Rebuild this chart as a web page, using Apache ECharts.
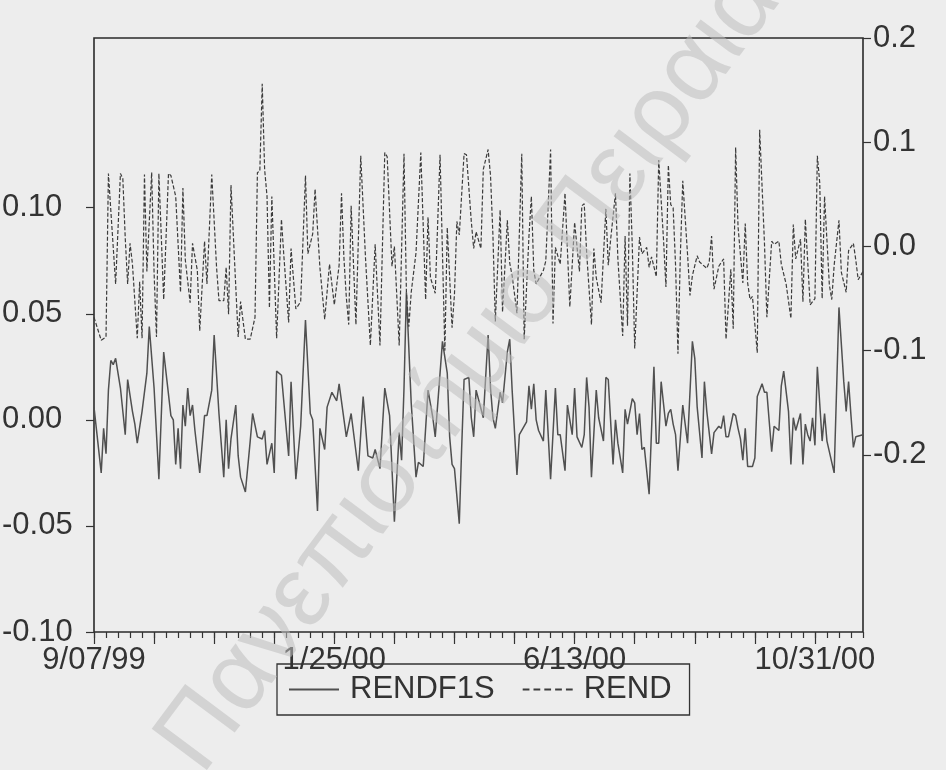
<!DOCTYPE html>
<html>
<head>
<meta charset="utf-8">
<script src="https://cdn.jsdelivr.net/npm/echarts@6/dist/echarts.min.js"></script>
<style>
html,body{margin:0;padding:0;background:#ededed;}
#c{width:946px;height:770px;}
</style>
</head>
<body>
<div id="c"></div>
<script>
// business-day index since 9/07/99
const dateLabels = ['9/07/99', '1/25/00', '6/13/00', '10/31/00'];
const dateLabelDays = [0, 100, 200, 300];

const leftTicks = [-0.10, -0.05, 0.00, 0.05, 0.10];
const rightTicks = [-0.2, -0.1, 0.0, 0.1, 0.2];

// RENDF1S (left axis)
const rendf1sDays = [0,3,4,5,6,7,8,9,11,13,14,16,17,18,20,22,23,25,27,29,32,33,34,35,36,37,38,39,40,41,42,44,46,47,49,50,52,54,55,56,57,59,60,61,63,65,66,68,70,71,72,74,75,76,78,81,82,84,86,88,90,91,93,94,96,97,99,101,102,105,107,110,112,114,116,117,119,121,123,125,127,128,129,130,132,134,135,137,139,141,142,145,147,148,149,150,152,153,154,156,157,158,159,162,164,165,166,167,169,170,172,173,174,176,177,178,180,181,182,183,184,185,187,188,190,192,193,194,196,197,199,200,201,203,204,205,206,207,209,210,212,213,214,216,217,218,220,221,222,224,225,226,227,228,229,231,233,234,235,236,238,239,240,241,242,243,245,247,249,250,251,253,254,255,257,258,260,261,262,263,264,266,267,268,269,270,271,272,274,275,276,278,279,280,281,282,283,285,286,287,289,290,291,292,294,295,296,297,298,299,300,301,303,304,305,308,310,312,313,314,315,316,317,320];
const rendf1sVals = [0.006,-0.025,-0.004,-0.016,0.014,0.028,0.026,0.029,0.015,-0.007,0.019,0.004,-0.002,-0.011,0.004,0.022,0.044,0.015,-0.028,0.032,0.002,0.000,-0.021,-0.004,-0.023,0.007,-0.003,0.015,0.002,0.007,-0.005,-0.025,0.002,0.002,0.014,0.040,0.003,-0.027,0.000,-0.023,-0.009,0.007,-0.017,-0.027,-0.034,-0.010,0.003,-0.008,-0.009,-0.005,-0.021,-0.011,-0.025,0.023,0.021,-0.017,0.018,-0.028,-0.003,0.047,0.003,0.000,-0.043,-0.004,-0.014,0.006,0.013,0.009,0.017,-0.008,0.003,-0.024,0.011,-0.017,-0.018,-0.014,-0.023,0.015,0.002,-0.048,-0.006,-0.019,0.015,0.060,0.008,-0.027,-0.020,-0.022,0.014,0.001,-0.008,0.037,0.022,-0.008,-0.021,-0.023,-0.049,-0.013,0.019,0.020,0.001,-0.008,0.014,0.001,0.040,0.015,0.001,-0.004,0.013,0.008,0.032,0.038,0.014,-0.026,-0.007,-0.005,-0.001,0.016,0.005,0.017,0.000,-0.005,-0.010,0.014,-0.028,0.015,-0.007,-0.007,-0.024,0.007,-0.007,0.015,-0.008,-0.013,-0.007,0.020,0.006,-0.027,0.014,0.001,-0.010,0.020,0.019,-0.021,0.000,-0.011,-0.025,0.005,-0.002,0.010,0.008,-0.007,0.003,-0.014,-0.013,-0.035,0.025,-0.011,-0.011,0.018,-0.003,0.003,0.005,-0.002,-0.007,-0.024,0.007,-0.011,0.037,0.029,0.006,-0.018,0.018,0.004,-0.016,-0.006,-0.003,-0.004,0.002,-0.008,-0.008,0.003,0.002,-0.004,-0.009,-0.019,-0.004,-0.022,-0.022,-0.018,0.011,0.017,0.013,0.013,-0.001,-0.015,-0.003,-0.005,0.016,0.023,0.004,-0.021,0.001,-0.005,0.003,-0.021,-0.002,-0.007,-0.010,0.001,-0.012,0.025,-0.010,0.003,-0.010,-0.025,0.053,0.018,0.004,0.018,0.002,-0.013,-0.008,-0.007];

// REND (right axis)
const rendDays = [0,3,5,6,9,11,12,13,14,15,16,18,19,20,21,22,24,25,26,27,29,31,32,34,36,37,38,40,41,43,44,46,47,49,51,52,54,55,56,57,59,60,61,63,65,67,68,69,70,71,72,73,74,76,78,79,81,82,84,86,88,89,91,92,94,96,98,100,102,103,104,105,106,107,109,111,113,115,117,119,121,122,124,125,127,129,130,131,132,134,136,138,139,140,142,144,146,147,149,150,151,152,154,155,157,158,159,161,162,164,165,166,167,169,170,172,173,174,176,178,179,181,182,183,184,187,188,190,191,192,194,196,198,200,202,203,204,205,207,208,209,211,213,214,215,217,218,220,221,222,223,224,225,227,228,230,231,232,234,235,237,238,239,240,241,242,243,244,245,247,248,249,251,252,255,256,257,258,260,262,263,265,266,267,268,270,271,272,273,274,276,277,279,280,282,283,285,286,288,290,291,292,294,295,296,298,300,301,302,303,304,306,307,308,310,311,313,314,316,317,318,320];
const rendVals = [-0.068,-0.090,-0.087,0.070,-0.036,0.070,0.065,0.008,-0.036,0.003,-0.017,-0.088,-0.034,-0.088,0.069,-0.024,0.071,-0.025,-0.087,0.070,-0.051,0.070,0.068,0.048,-0.044,0.056,-0.013,-0.054,0.003,-0.023,-0.081,0.005,-0.036,0.069,-0.020,-0.052,-0.052,-0.020,-0.065,0.059,-0.039,-0.087,-0.053,-0.089,-0.089,-0.068,0.071,0.072,0.156,0.074,0.048,-0.059,0.048,-0.088,0.026,-0.009,-0.073,-0.002,-0.060,-0.053,0.068,-0.007,0.012,0.055,-0.020,-0.070,-0.017,-0.056,-0.018,0.051,-0.011,-0.049,-0.075,0.039,-0.075,0.087,-0.012,-0.095,0.002,-0.095,0.090,0.086,-0.019,0.000,-0.095,0.089,-0.044,-0.077,-0.044,-0.006,0.090,-0.051,0.028,-0.030,-0.045,0.088,-0.100,0.018,-0.078,-0.046,0.024,0.011,0.089,0.088,0.024,-0.002,0.014,-0.002,0.074,0.093,0.068,0.011,-0.072,0.035,-0.063,0.025,-0.016,-0.028,-0.064,0.089,-0.089,0.010,0.048,-0.023,-0.036,-0.023,-0.014,0.093,-0.074,-0.001,-0.017,0.051,-0.058,0.023,-0.024,0.039,0.041,-0.006,-0.075,-0.002,-0.030,-0.054,0.036,-0.018,0.007,0.051,-0.012,-0.086,0.010,-0.076,0.070,0.000,-0.098,0.009,-0.007,-0.001,-0.020,-0.010,-0.029,0.083,0.006,-0.039,0.078,0.040,0.037,-0.018,-0.103,-0.008,0.063,-0.008,-0.047,-0.028,-0.009,-0.015,-0.021,-0.015,0.010,-0.041,-0.019,-0.012,-0.089,-0.022,-0.079,0.095,0.019,-0.035,0.022,-0.035,-0.051,-0.048,-0.102,0.112,0.003,-0.068,0.005,0.002,0.005,-0.017,-0.036,-0.069,0.021,-0.012,0.007,-0.053,0.026,-0.056,-0.050,0.087,0.061,-0.050,0.048,-0.037,-0.051,-0.018,0.025,-0.025,-0.044,-0.004,0.003,-0.013,-0.032,-0.024];

const FONT = "'Liberation Sans', Arial, sans-serif";
const INK = '#333333';

const weekTicks = [];
for (let d = 0; d <= 320; d += 5) weekTicks.push(d);
const longTicks = [];
for (let d = 0; d <= 320; d += 25) longTicks.push(d);

const dashIcon = 'path://M0,0h5v2h-5z M8,0h5v2h-5z M16,0h5v2h-5z M24,0h5v2h-5z M32,0h5v2h-5z';

const chart = echarts.init(document.getElementById('c'), null, {renderer: 'canvas'});
chart.setOption({
  animation: false,
  backgroundColor: '#ededed',
  grid: {
    left: 94, right: 83, top: 38, bottom: 138,
    show: true, borderColor: '#2a2a2a', borderWidth: 1.6,
    backgroundColor: 'transparent', containLabel: false, outerBoundsMode: 'none'
  },
  legend: {
    data: [{name: 'RENDF1S', icon: 'rect'}, {name: 'REND', icon: dashIcon}],
    left: 277, top: 664,
    itemWidth: 50, itemHeight: 2, itemGap: 28,
    symbolKeepAspect: false,
    borderColor: '#333', borderWidth: 1.3,
    padding: [10, 18, 10, 12],
    textStyle: {fontSize: 31, color: INK, fontFamily: FONT, padding: [0, 0, 0, 6]}
  },
  xAxis: [{
    type: 'value', min: 0, max: 320, position: 'bottom',
    axisLine: {show: false, onZero: false}, splitLine: {show: false},
    axisTick: {show: true, customValues: weekTicks, length: 6, lineStyle: {color: INK, width: 1.2}},
    axisLabel: {
      customValues: dateLabelDays, margin: 13,
      formatter: v => dateLabels[dateLabelDays.indexOf(Math.round(v))] || '',
      fontSize: 31, color: INK, fontFamily: FONT
    }
  }, {
    type: 'value', min: 0, max: 320, position: 'bottom',
    axisLine: {show: false, onZero: false}, splitLine: {show: false},
    axisTick: {show: true, customValues: longTicks, length: 12, lineStyle: {color: INK, width: 1.2}},
    axisLabel: {show: false}
  }],
  yAxis: [{
    type: 'value', min: -0.10, max: 0.18, position: 'left',
    axisLine: {show: false, onZero: false}, splitLine: {show: false},
    axisTick: {show: true, customValues: leftTicks, length: 8, lineStyle: {color: INK, width: 1.2}},
    axisLabel: {customValues: leftTicks, formatter: v => v.toFixed(2), margin: 92, align: 'left',
      fontSize: 31, color: INK, fontFamily: FONT}
  }, {
    type: 'value', min: -0.37, max: 0.2, position: 'right',
    axisLine: {show: false, onZero: false}, splitLine: {show: false},
    axisTick: {show: true, customValues: rightTicks, length: 8, lineStyle: {color: INK, width: 1.2}},
    axisLabel: {customValues: rightTicks, formatter: v => v.toFixed(1), margin: 10,
      fontSize: 31, color: INK, fontFamily: FONT}
  }],
  series: [{
    name: 'RENDF1S', type: 'line', xAxisIndex: 0, yAxisIndex: 0,
    symbol: 'none', silent: true,
    lineStyle: {color: '#505050', width: 1.5},
    itemStyle: {color: '#505050'},
    data: rendf1sDays.map((d, i) => [d, rendf1sVals[i]])
  }, {
    name: 'REND', type: 'line', xAxisIndex: 0, yAxisIndex: 1,
    symbol: 'none', silent: true,
    lineStyle: {color: '#3c3c3c', width: 1.2, type: [4, 2]},
    itemStyle: {color: '#3c3c3c'},
    data: rendDays.map((d, i) => [d, rendVals[i]])
  }],
  graphic: [{
    type: 'text', x: 220, y: 790, rotation: 0.93, z: 100, silent: true,
    style: {
      text: 'Πανεπιστήμιο Πειραιά', fontSize: 100, fontFamily: FONT,
      fill: 'rgba(190,190,190,0.55)', align: 'left', verticalAlign: 'bottom'
    }
  }]
});
</script>
</body>
</html>
